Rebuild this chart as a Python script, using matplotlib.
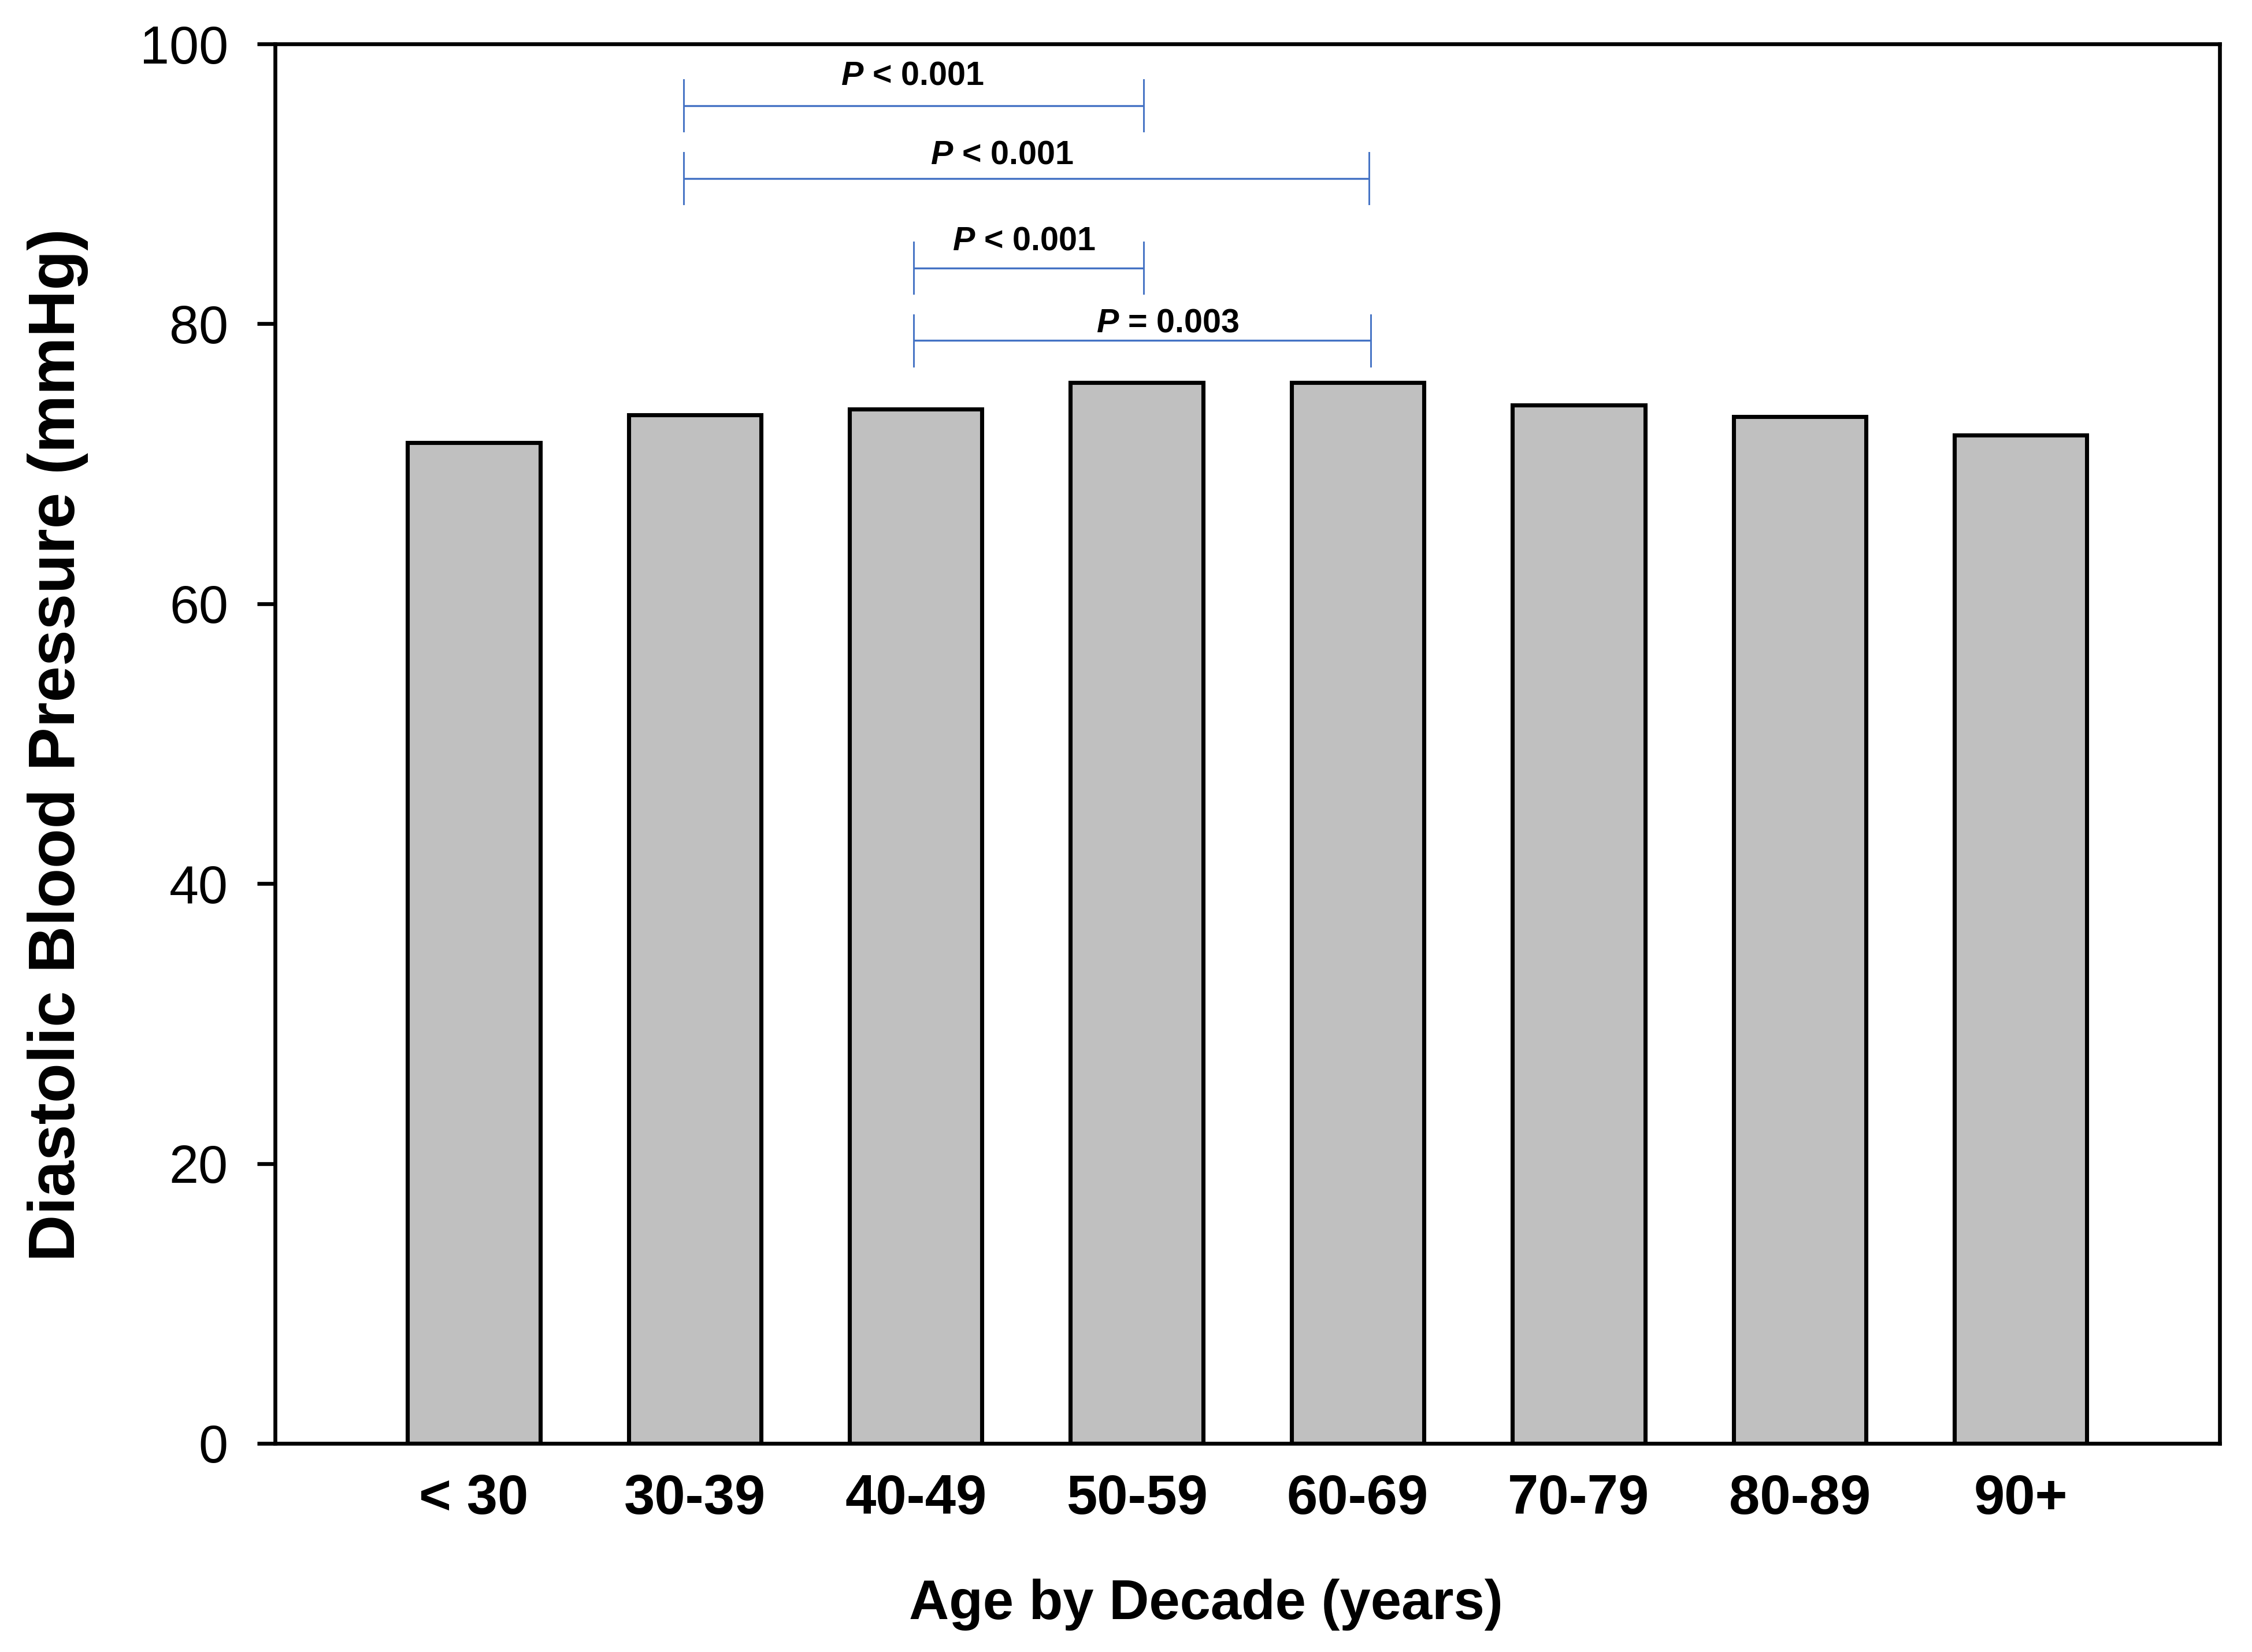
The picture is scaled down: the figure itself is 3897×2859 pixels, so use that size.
'''
Bar chart of the mean diastolic blood pressure by age decade,
with the significance brackets between selected decades.
'''

import matplotlib.pyplot as plt

# ====== Data ======
age_groups = ['< 30', '30-39', '40-49', '50-59', '60-69', '70-79', '80-89', '90+']
dbp_mean = [71.5, 73.5, 73.9, 75.8, 75.8, 74.2, 73.35, 72.05]

# significance brackets (x in category units, y in mmHg)
br_left = [0.95, 0.95, 1.99, 1.99]
br_right = [3.03, 4.05, 3.03, 4.06]
br_y = [95.6, 90.4, 84.0, 78.8]
br_text = [r'$P$ < 0.001', r'$P$ < 0.001', r'$P$ < 0.001', r'$P$ = 0.003']
br_text_x = [1.985, 2.39, 2.49, 3.14]
br_text_y = [97.1, 91.45, 85.3, 79.4]


def dbp_plot(fout):

	plt.rcParams['font.family'] = 'Liberation Sans'
	plt.rcParams['mathtext.fontset'] = 'custom'
	plt.rcParams['mathtext.it'] = 'Liberation Sans:italic:bold'
	plt.rcParams['mathtext.rm'] = 'Liberation Sans:bold'

	fig = plt.figure(figsize=(3897 / 300, 2859 / 300), dpi=300)
	ax = fig.add_axes([0.1221, 0.1263, 0.8635, 0.8471])

	x = list(range(len(age_groups)))
	ax.bar(x, dbp_mean, width=0.6, color='#c0c0c0', edgecolor='black', linewidth=1.7, zorder=2)

	# ===== Brackets =====
	blue = '#4472c4'
	for xl, xr, y in zip(br_left, br_right, br_y):
		ax.plot([xl, xr], [y, y], color=blue, lw=0.8, solid_capstyle='butt')
		ax.plot([xl, xl], [y - 1.85, y + 1.85], color=blue, lw=0.7)
		ax.plot([xr, xr], [y - 1.85, y + 1.85], color=blue, lw=0.7)
	for t, tx, ty in zip(br_text, br_text_x, br_text_y):
		ax.text(tx, ty, t, ha='center', va='baseline', fontsize=13.8, fontweight='bold')

	# ===== Axes =====
	ax.set_xlim(-0.9, 7.9)
	ax.set_ylim(0, 100)
	ax.set_yticks(range(0, 101, 20))
	ax.set_xticks(x, age_groups, fontsize=23, fontweight='bold')
	ax.tick_params(axis='x', length=0, pad=12.5)
	ax.tick_params(axis='y', direction='out', length=7.4, width=1.6, labelsize=22, pad=12)
	for sp in ax.spines.values():
		sp.set_linewidth(1.6)

	fig.text(0.0257, 0.549, 'Diastolic Blood Pressure (mmHg)', rotation=90,
			 ha='center', va='center', fontsize=27, fontweight='bold')
	fig.text(0.5355, 0.0199, 'Age by Decade (years)', ha='center', va='baseline',
			 fontsize=23, fontweight='bold')

	fig.savefig(fout, dpi=300)
	print(f"[-] Plot generated in: {fout}")


if __name__ == "__main__":

	dbp_plot('out.png')
